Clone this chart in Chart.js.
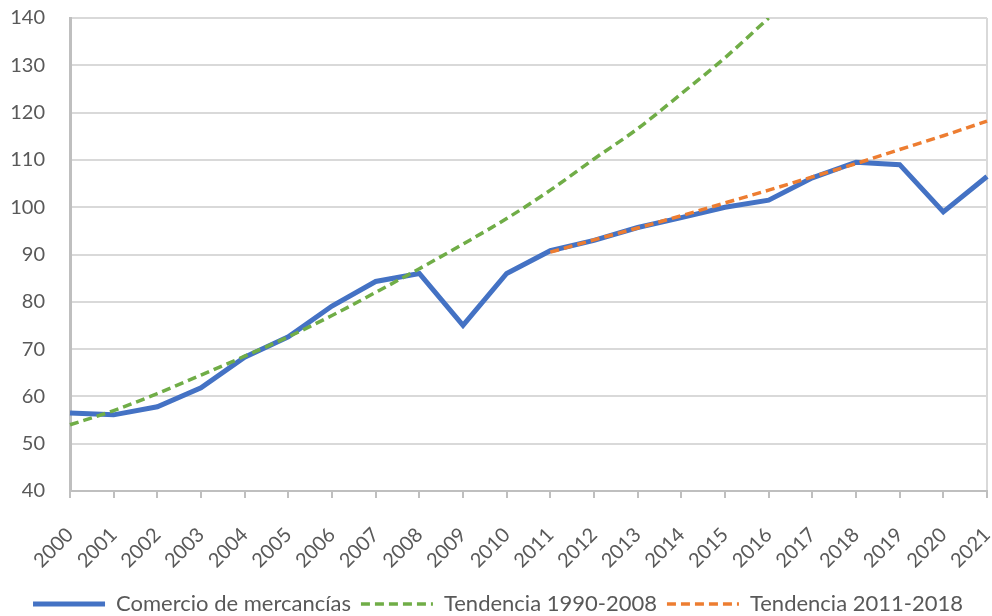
<!DOCTYPE html>
<html>
<head>
<meta charset="utf-8">
<script src="https://cdn.jsdelivr.net/npm/chart.js@4.4.0/dist/chart.umd.min.js"></script>
<style>
  html, body { margin: 0; padding: 0; background: #fff; }
  #wrap { width: 992px; height: 616px; }
</style>
</head>
<body>
<div id="wrap"><canvas id="grafico"></canvas></div>
<script>
const anios = ['2000','2001','2002','2003','2004','2005','2006','2007','2008','2009','2010',
  '2011','2012','2013','2014','2015','2016','2017','2018','2019','2020','2021'];

const comercio = [56.5, 56.1, 57.8, 61.8, 68.3, 72.6, 79.1, 84.3, 86.0, 75.0, 86.0,
  90.8, 93.0, 95.7, 97.8, 100.0, 101.5, 106.2, 109.5, 109.0, 99.0, 106.5];

// tendencia 1990-2008, se sale del eje a partir de 2016
const tendencia1 = [54.0, 57.0, 60.6, 64.5, 68.5, 72.6, 77.1, 82.0, 87.0, 92.2, 97.6,
  103.6, 110.2, 116.6, 124.0, 131.6, 140.0, null, null, null, null, null];

const tendencia2 = [null, null, null, null, null, null, null, null, null, null, null,
  90.5, 93.1, 95.6, 98.2, 100.9, 103.6, 106.4, 109.2, 112.2, 115.1, 118.2];

const fuente = 'Lato, "Noto Sans", sans-serif';
const gris = '#595959';

const ctx = document.getElementById('grafico').getContext('2d');
const chart = new Chart(ctx, {
  type: 'line',
  data: {
    labels: anios,
    datasets: [
      {
        label: 'Comercio de mercancías',
        data: comercio,
        borderColor: '#4472c4',
        borderWidth: 5,
        pointRadius: 0,
        tension: 0,
        order: 2,
        fill: false
      },
      {
        label: 'Tendencia 1990-2008',
        data: tendencia1,
        borderColor: '#70ad47',
        borderWidth: 3.5,
        borderDash: [9, 5],
        pointRadius: 0,
        cubicInterpolationMode: 'monotone',
        order: 1,
        fill: false
      },
      {
        label: 'Tendencia 2011-2018',
        data: tendencia2,
        borderColor: '#ed7d31',
        borderWidth: 3.5,
        borderDash: [9, 5],
        pointRadius: 0,
        tension: 0,
        order: 0,
        fill: false
      }
    ]
  },
  options: {
    responsive: true,
    maintainAspectRatio: false,
    animation: false,
    layout: { padding: { top: 6, right: 4, left: 8, bottom: -9 } },
    plugins: {
      tooltip: { enabled: false },
      legend: {
        position: 'bottom',
        labels: {
          usePointStyle: true,
          pointStyle: 'line',
          pointStyleWidth: 72,
          boxHeight: 10,
          padding: 10,
          color: gris,
          font: { family: fuente, size: 22 },
          sort: (a, b) => a.datasetIndex - b.datasetIndex,
          generateLabels: (ch) => {
            const items = Chart.defaults.plugins.legend.labels.generateLabels(ch);
            items.forEach(it => {
              const ds = ch.data.datasets[it.datasetIndex];
              it.lineDash = ds.borderDash || [];
              it.lineWidth = ds.borderWidth;
              it.strokeStyle = ds.borderColor;
            });
            return items;
          }
        }
      }
    },
    scales: {
      x: {
        offset: false,
        grid: {
          drawOnChartArea: true,
          color: c => (c.index === anios.length - 1 ? '#d9d9d9' : 'rgba(0,0,0,0)'),
          tickColor: '#bfbfbf',
          tickLength: 7,
          lineWidth: 2
        },
        border: { color: '#bfbfbf', width: 2 },
        ticks: {
          color: gris,
          font: { family: fuente, size: 20 },
          maxRotation: 45,
          minRotation: 45,
          autoSkip: false,
          padding: 25
        },
        afterFit: s => {
          s.height = 92;
          s.paddingRight = 5;
          s.paddingLeft = 20;
        }
      },
      y: {
        min: 40,
        max: 140,
        ticks: {
          stepSize: 10,
          color: gris,
          font: { family: fuente, size: 20 },
          padding: 25
        },
        grid: { color: '#d9d9d9', lineWidth: 2, drawTicks: false },
        border: { color: '#bfbfbf', width: 3 },
        afterFit: s => {
          s.width = 62;
          s.paddingTop = 18;
          s.paddingBottom = 12;
        }
      }
    }
  }
});
</script>
</body>
</html>
